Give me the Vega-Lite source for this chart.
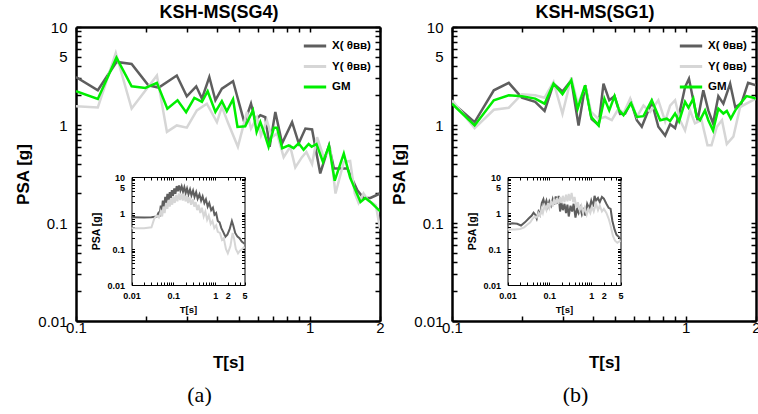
{
  "$schema": "https://vega.github.io/schema/vega-lite/v6.json",
  "background": "white",
  "padding": {"left": 14, "top": 4, "right": 0, "bottom": 0},
  "config": {"view": {"stroke": null}, "font": "Liberation Sans"},
  "datasets": {
    "mainA": [
      {"s":"X","T":0.1,"psa":3.09},{"s":"X","T":0.124,"psa":2.26},{"s":"X","T":0.149,"psa":4.4},{"s":"X","T":0.173,"psa":4.2},{"s":"X","T":0.204,"psa":2.54},{"s":"X","T":0.226,"psa":2.41},{"s":"X","T":0.27,"psa":3.2},{"s":"X","T":0.298,"psa":1.96},{"s":"X","T":0.327,"psa":2.48},{"s":"X","T":0.346,"psa":1.86},{"s":"X","T":0.372,"psa":3.09},{"s":"X","T":0.395,"psa":1.79},{"s":"X","T":0.421,"psa":2.35},{"s":"X","T":0.47,"psa":2.8},{"s":"X","T":0.526,"psa":1.05},{"s":"X","T":0.561,"psa":1.65},{"s":"X","T":0.585,"psa":1.11},{"s":"X","T":0.615,"psa":1.26},{"s":"X","T":0.646,"psa":1.2},{"s":"X","T":0.674,"psa":0.6},{"s":"X","T":0.713,"psa":1.36},{"s":"X","T":0.762,"psa":0.65},{"s":"X","T":0.841,"psa":1.07},{"s":"X","T":0.898,"psa":0.65},{"s":"X","T":0.959,"psa":0.92},{"s":"X","T":1.024,"psa":0.9},{"s":"X","T":1.11,"psa":0.32},{"s":"X","T":1.21,"psa":0.62},{"s":"X","T":1.27,"psa":0.36},{"s":"X","T":1.45,"psa":0.36},{"s":"X","T":1.6,"psa":0.216},{"s":"X","T":1.7,"psa":0.18},{"s":"X","T":1.82,"psa":0.18},{"s":"X","T":2.0,"psa":0.2},
      {"s":"Y","T":0.1,"psa":1.55},{"s":"Y","T":0.124,"psa":1.51},{"s":"Y","T":0.148,"psa":5.43},{"s":"Y","T":0.173,"psa":1.47},{"s":"Y","T":0.222,"psa":3.2},{"s":"Y","T":0.245,"psa":0.85},{"s":"Y","T":0.27,"psa":0.99},{"s":"Y","T":0.298,"psa":0.94},{"s":"Y","T":0.329,"psa":1.41},{"s":"Y","T":0.363,"psa":1.65},{"s":"Y","T":0.401,"psa":1.07},{"s":"Y","T":0.421,"psa":1.53},{"s":"Y","T":0.449,"psa":1.03},{"s":"Y","T":0.493,"psa":0.6},{"s":"Y","T":0.539,"psa":1.36},{"s":"Y","T":0.561,"psa":0.92},{"s":"Y","T":0.595,"psa":1.2},{"s":"Y","T":0.619,"psa":0.78},{"s":"Y","T":0.656,"psa":1.11},{"s":"Y","T":0.69,"psa":0.75},{"s":"Y","T":0.725,"psa":0.82},{"s":"Y","T":0.774,"psa":0.47},{"s":"Y","T":0.826,"psa":0.6},{"s":"Y","T":0.868,"psa":0.37},{"s":"Y","T":0.927,"psa":0.47},{"s":"Y","T":0.968,"psa":0.53},{"s":"Y","T":1.024,"psa":0.4},{"s":"Y","T":1.076,"psa":0.75},{"s":"Y","T":1.148,"psa":0.47},{"s":"Y","T":1.227,"psa":0.55},{"s":"Y","T":1.29,"psa":0.2},{"s":"Y","T":1.4,"psa":0.42},{"s":"Y","T":1.49,"psa":0.43},{"s":"Y","T":1.56,"psa":0.2},{"s":"Y","T":1.62,"psa":0.16},{"s":"Y","T":1.7,"psa":0.2},{"s":"Y","T":1.78,"psa":0.17},{"s":"Y","T":1.92,"psa":0.152},{"s":"Y","T":2.0,"psa":0.088},
      {"s":"GM","T":0.1,"psa":2.21},{"s":"GM","T":0.124,"psa":1.84},{"s":"GM","T":0.149,"psa":4.87},{"s":"GM","T":0.173,"psa":2.48},{"s":"GM","T":0.198,"psa":2.39},{"s":"GM","T":0.222,"psa":2.69},{"s":"GM","T":0.246,"psa":1.47},{"s":"GM","T":0.272,"psa":1.79},{"s":"GM","T":0.296,"psa":1.35},{"s":"GM","T":0.321,"psa":1.89},{"s":"GM","T":0.346,"psa":1.72},{"s":"GM","T":0.366,"psa":2.21},{"s":"GM","T":0.395,"psa":1.36},{"s":"GM","T":0.421,"psa":1.75},{"s":"GM","T":0.442,"psa":1.38},{"s":"GM","T":0.47,"psa":1.83},{"s":"GM","T":0.491,"psa":0.955},{"s":"GM","T":0.53,"psa":0.97},{"s":"GM","T":0.572,"psa":1.41},{"s":"GM","T":0.593,"psa":0.85},{"s":"GM","T":0.615,"psa":1.07},{"s":"GM","T":0.64,"psa":0.82},{"s":"GM","T":0.667,"psa":0.6},{"s":"GM","T":0.703,"psa":0.94},{"s":"GM","T":0.725,"psa":0.94},{"s":"GM","T":0.763,"psa":0.58},{"s":"GM","T":0.814,"psa":0.62},{"s":"GM","T":0.854,"psa":0.58},{"s":"GM","T":0.897,"psa":0.65},{"s":"GM","T":0.942,"psa":0.56},{"s":"GM","T":0.99,"psa":0.64},{"s":"GM","T":1.02,"psa":0.6},{"s":"GM","T":1.07,"psa":0.64},{"s":"GM","T":1.14,"psa":0.42},{"s":"GM","T":1.21,"psa":0.61},{"s":"GM","T":1.28,"psa":0.27},{"s":"GM","T":1.4,"psa":0.51},{"s":"GM","T":1.49,"psa":0.29},{"s":"GM","T":1.65,"psa":0.164},{"s":"GM","T":1.73,"psa":0.18},{"s":"GM","T":1.82,"psa":0.164},{"s":"GM","T":2.0,"psa":0.132}
    ],
    "mainB": [
      {"s":"X","T":0.1,"psa":1.7},{"s":"X","T":0.125,"psa":1.07},{"s":"X","T":0.151,"psa":2.26},{"s":"X","T":0.175,"psa":2.69},{"s":"X","T":0.199,"psa":1.9},{"s":"X","T":0.227,"psa":1.72},{"s":"X","T":0.249,"psa":1.39},{"s":"X","T":0.272,"psa":2.64},{"s":"X","T":0.297,"psa":2.2},{"s":"X","T":0.324,"psa":2.86},{"s":"X","T":0.348,"psa":0.99},{"s":"X","T":0.372,"psa":2.54},{"s":"X","T":0.396,"psa":1.15},{"s":"X","T":0.424,"psa":1.0},{"s":"X","T":0.445,"psa":2.64},{"s":"X","T":0.471,"psa":1.79},{"s":"X","T":0.496,"psa":1.97},{"s":"X","T":0.524,"psa":1.3},{"s":"X","T":0.551,"psa":1.31},{"s":"X","T":0.584,"psa":1.72},{"s":"X","T":0.618,"psa":1.12},{"s":"X","T":0.649,"psa":0.96},{"s":"X","T":0.716,"psa":1.72},{"s":"X","T":0.764,"psa":0.96},{"s":"X","T":0.817,"psa":0.78},{"s":"X","T":0.858,"psa":1.02},{"s":"X","T":0.901,"psa":0.93},{"s":"X","T":0.946,"psa":1.41},{"s":"X","T":0.994,"psa":2.44},{"s":"X","T":1.033,"psa":2.97},{"s":"X","T":1.078,"psa":1.79},{"s":"X","T":1.125,"psa":1.12},{"s":"X","T":1.19,"psa":2.26},{"s":"X","T":1.25,"psa":1.41},{"s":"X","T":1.31,"psa":1.04},{"s":"X","T":1.38,"psa":1.97},{"s":"X","T":1.45,"psa":1.65},{"s":"X","T":1.55,"psa":2.64},{"s":"X","T":1.63,"psa":1.52},{"s":"X","T":1.73,"psa":1.65},{"s":"X","T":1.85,"psa":2.69},{"s":"X","T":2.0,"psa":2.54},
      {"s":"Y","T":0.1,"psa":1.79},{"s":"Y","T":0.125,"psa":0.93},{"s":"Y","T":0.151,"psa":1.43},{"s":"Y","T":0.175,"psa":1.5},{"s":"Y","T":0.199,"psa":2.06},{"s":"Y","T":0.227,"psa":2.01},{"s":"Y","T":0.249,"psa":1.9},{"s":"Y","T":0.272,"psa":2.75},{"s":"Y","T":0.297,"psa":1.3},{"s":"Y","T":0.324,"psa":3.05},{"s":"Y","T":0.345,"psa":1.65},{"s":"Y","T":0.372,"psa":2.44},{"s":"Y","T":0.394,"psa":1.36},{"s":"Y","T":0.424,"psa":1.15},{"s":"Y","T":0.453,"psa":1.21},{"s":"Y","T":0.483,"psa":1.12},{"s":"Y","T":0.516,"psa":1.47},{"s":"Y","T":0.542,"psa":1.31},{"s":"Y","T":0.579,"psa":1.86},{"s":"Y","T":0.618,"psa":1.21},{"s":"Y","T":0.66,"psa":1.58},{"s":"Y","T":0.705,"psa":1.36},{"s":"Y","T":0.764,"psa":1.79},{"s":"Y","T":0.817,"psa":1.09},{"s":"Y","T":0.858,"psa":1.58},{"s":"Y","T":0.901,"psa":1.79},{"s":"Y","T":0.946,"psa":1.12},{"s":"Y","T":0.994,"psa":0.88},{"s":"Y","T":1.044,"psa":1.41},{"s":"Y","T":1.096,"psa":1.04},{"s":"Y","T":1.17,"psa":1.12},{"s":"Y","T":1.24,"psa":0.62},{"s":"Y","T":1.29,"psa":0.62},{"s":"Y","T":1.36,"psa":0.96},{"s":"Y","T":1.43,"psa":1.12},{"s":"Y","T":1.5,"psa":0.64},{"s":"Y","T":1.6,"psa":0.76},{"s":"Y","T":1.71,"psa":1.52},{"s":"Y","T":1.82,"psa":1.65},{"s":"Y","T":2.0,"psa":1.86},
      {"s":"GM","T":0.1,"psa":1.65},{"s":"GM","T":0.125,"psa":0.99},{"s":"GM","T":0.151,"psa":1.79},{"s":"GM","T":0.175,"psa":2.01},{"s":"GM","T":0.199,"psa":1.97},{"s":"GM","T":0.227,"psa":1.86},{"s":"GM","T":0.249,"psa":1.65},{"s":"GM","T":0.272,"psa":2.64},{"s":"GM","T":0.297,"psa":2.06},{"s":"GM","T":0.324,"psa":2.86},{"s":"GM","T":0.345,"psa":1.47},{"s":"GM","T":0.371,"psa":2.54},{"s":"GM","T":0.394,"psa":1.21},{"s":"GM","T":0.424,"psa":0.99},{"s":"GM","T":0.449,"psa":1.86},{"s":"GM","T":0.471,"psa":1.41},{"s":"GM","T":0.496,"psa":1.97},{"s":"GM","T":0.519,"psa":1.41},{"s":"GM","T":0.542,"psa":1.26},{"s":"GM","T":0.584,"psa":1.67},{"s":"GM","T":0.618,"psa":1.21},{"s":"GM","T":0.66,"psa":1.23},{"s":"GM","T":0.716,"psa":1.79},{"s":"GM","T":0.778,"psa":1.12},{"s":"GM","T":0.83,"psa":1.16},{"s":"GM","T":0.858,"psa":1.1},{"s":"GM","T":0.901,"psa":1.31},{"s":"GM","T":0.937,"psa":1.09},{"s":"GM","T":0.994,"psa":1.72},{"s":"GM","T":1.028,"psa":1.5},{"s":"GM","T":1.078,"psa":1.86},{"s":"GM","T":1.114,"psa":1.21},{"s":"GM","T":1.152,"psa":1.12},{"s":"GM","T":1.21,"psa":1.41},{"s":"GM","T":1.25,"psa":1.12},{"s":"GM","T":1.31,"psa":0.88},{"s":"GM","T":1.38,"psa":1.47},{"s":"GM","T":1.45,"psa":1.31},{"s":"GM","T":1.5,"psa":1.39},{"s":"GM","T":1.56,"psa":1.16},{"s":"GM","T":1.63,"psa":1.41},{"s":"GM","T":1.71,"psa":1.65},{"s":"GM","T":1.82,"psa":1.97},{"s":"GM","T":1.95,"psa":1.9},{"s":"GM","T":2.0,"psa":1.85}
    ],
    "insA": [
      {"s":"X","T":0.01,"psa":0.76},{"s":"X","T":0.02,"psa":0.75},{"s":"X","T":0.03,"psa":0.76},{"s":"X","T":0.04,"psa":0.8},{"s":"X","T":0.044,"psa":1.0},{"s":"X","T":0.047,"psa":0.9},{"s":"X","T":0.05,"psa":1.6},{"s":"X","T":0.053,"psa":1.2},{"s":"X","T":0.056,"psa":2.2},{"s":"X","T":0.06,"psa":1.5},{"s":"X","T":0.064,"psa":2.8},{"s":"X","T":0.068,"psa":1.9},{"s":"X","T":0.072,"psa":3.4},{"s":"X","T":0.077,"psa":2.2},{"s":"X","T":0.082,"psa":3.8},{"s":"X","T":0.087,"psa":2.6},{"s":"X","T":0.092,"psa":4.3},{"s":"X","T":0.098,"psa":3.0},{"s":"X","T":0.105,"psa":4.8},{"s":"X","T":0.112,"psa":3.4},{"s":"X","T":0.12,"psa":5.6},{"s":"X","T":0.128,"psa":4.0},{"s":"X","T":0.137,"psa":5.8},{"s":"X","T":0.147,"psa":4.2},{"s":"X","T":0.158,"psa":5.5},{"s":"X","T":0.17,"psa":3.9},{"s":"X","T":0.183,"psa":5.2},{"s":"X","T":0.197,"psa":3.6},{"s":"X","T":0.212,"psa":4.8},{"s":"X","T":0.23,"psa":3.3},{"s":"X","T":0.25,"psa":4.5},{"s":"X","T":0.27,"psa":3.1},{"s":"X","T":0.295,"psa":4.2},{"s":"X","T":0.32,"psa":2.8},{"s":"X","T":0.35,"psa":3.8},{"s":"X","T":0.38,"psa":2.5},{"s":"X","T":0.42,"psa":3.3},{"s":"X","T":0.46,"psa":2.2},{"s":"X","T":0.5,"psa":2.9},{"s":"X","T":0.55,"psa":1.9},{"s":"X","T":0.6,"psa":2.4},{"s":"X","T":0.66,"psa":1.5},{"s":"X","T":0.72,"psa":1.9},{"s":"X","T":0.8,"psa":1.2},{"s":"X","T":0.88,"psa":1.4},{"s":"X","T":0.96,"psa":0.9},{"s":"X","T":1.05,"psa":1.0},{"s":"X","T":1.15,"psa":0.6},{"s":"X","T":1.27,"psa":0.55},{"s":"X","T":1.4,"psa":0.38},{"s":"X","T":1.55,"psa":0.3},{"s":"X","T":1.75,"psa":0.22},{"s":"X","T":1.95,"psa":0.25},{"s":"X","T":2.2,"psa":0.35},{"s":"X","T":2.5,"psa":0.6},{"s":"X","T":2.7,"psa":0.45},{"s":"X","T":3.0,"psa":0.28},{"s":"X","T":3.4,"psa":0.22},{"s":"X","T":3.8,"psa":0.2},{"s":"X","T":4.3,"psa":0.16},{"s":"X","T":5.0,"psa":0.14},
      {"s":"Y","T":0.01,"psa":0.38},{"s":"Y","T":0.02,"psa":0.38},{"s":"Y","T":0.03,"psa":0.4},{"s":"Y","T":0.035,"psa":0.7},{"s":"Y","T":0.04,"psa":0.85},{"s":"Y","T":0.045,"psa":0.75},{"s":"Y","T":0.05,"psa":1.1},{"s":"Y","T":0.054,"psa":0.8},{"s":"Y","T":0.058,"psa":1.5},{"s":"Y","T":0.062,"psa":1.0},{"s":"Y","T":0.067,"psa":1.9},{"s":"Y","T":0.072,"psa":1.3},{"s":"Y","T":0.077,"psa":2.3},{"s":"Y","T":0.082,"psa":1.5},{"s":"Y","T":0.088,"psa":2.6},{"s":"Y","T":0.094,"psa":1.7},{"s":"Y","T":0.1,"psa":2.9},{"s":"Y","T":0.108,"psa":1.9},{"s":"Y","T":0.116,"psa":3.2},{"s":"Y","T":0.125,"psa":2.1},{"s":"Y","T":0.135,"psa":3.5},{"s":"Y","T":0.145,"psa":2.3},{"s":"Y","T":0.156,"psa":3.4},{"s":"Y","T":0.168,"psa":2.2},{"s":"Y","T":0.18,"psa":3.3},{"s":"Y","T":0.195,"psa":2.1},{"s":"Y","T":0.21,"psa":3.0},{"s":"Y","T":0.225,"psa":1.9},{"s":"Y","T":0.245,"psa":2.7},{"s":"Y","T":0.265,"psa":1.7},{"s":"Y","T":0.29,"psa":2.4},{"s":"Y","T":0.315,"psa":1.5},{"s":"Y","T":0.34,"psa":2.0},{"s":"Y","T":0.37,"psa":1.2},{"s":"Y","T":0.4,"psa":1.7},{"s":"Y","T":0.44,"psa":1.0},{"s":"Y","T":0.48,"psa":1.4},{"s":"Y","T":0.53,"psa":0.8},{"s":"Y","T":0.58,"psa":1.1},{"s":"Y","T":0.64,"psa":0.65},{"s":"Y","T":0.7,"psa":0.85},{"s":"Y","T":0.78,"psa":0.5},{"s":"Y","T":0.86,"psa":0.6},{"s":"Y","T":0.95,"psa":0.38},{"s":"Y","T":1.05,"psa":0.45},{"s":"Y","T":1.15,"psa":0.3},{"s":"Y","T":1.3,"psa":0.28},{"s":"Y","T":1.45,"psa":0.18},{"s":"Y","T":1.6,"psa":0.2},{"s":"Y","T":1.8,"psa":0.1},{"s":"Y","T":2.0,"psa":0.076},{"s":"Y","T":2.3,"psa":0.12},{"s":"Y","T":2.6,"psa":0.28},{"s":"Y","T":2.8,"psa":0.2},{"s":"Y","T":3.1,"psa":0.1},{"s":"Y","T":3.5,"psa":0.076},{"s":"Y","T":3.9,"psa":0.09},{"s":"Y","T":4.4,"psa":0.1},{"s":"Y","T":5.0,"psa":0.115}
    ],
    "insB": [
      {"s":"X","T":0.01,"psa":0.48},{"s":"X","T":0.013,"psa":0.52},{"s":"X","T":0.017,"psa":0.5},{"s":"X","T":0.021,"psa":0.45},{"s":"X","T":0.026,"psa":0.55},{"s":"X","T":0.032,"psa":0.7},{"s":"X","T":0.038,"psa":0.85},{"s":"X","T":0.042,"psa":1.02},{"s":"X","T":0.046,"psa":0.9},{"s":"X","T":0.05,"psa":0.7},{"s":"X","T":0.055,"psa":1.1},{"s":"X","T":0.06,"psa":0.9},{"s":"X","T":0.066,"psa":1.9},{"s":"X","T":0.072,"psa":2.4},{"s":"X","T":0.078,"psa":1.6},{"s":"X","T":0.085,"psa":2.2},{"s":"X","T":0.092,"psa":1.5},{"s":"X","T":0.1,"psa":2.1},{"s":"X","T":0.11,"psa":1.6},{"s":"X","T":0.12,"psa":2.4},{"s":"X","T":0.13,"psa":1.7},{"s":"X","T":0.142,"psa":2.9},{"s":"X","T":0.155,"psa":1.8},{"s":"X","T":0.167,"psa":3.0},{"s":"X","T":0.18,"psa":1.1},{"s":"X","T":0.195,"psa":1.9},{"s":"X","T":0.21,"psa":1.2},{"s":"X","T":0.23,"psa":1.8},{"s":"X","T":0.25,"psa":1.0},{"s":"X","T":0.27,"psa":1.7},{"s":"X","T":0.29,"psa":0.8},{"s":"X","T":0.32,"psa":1.6},{"s":"X","T":0.35,"psa":1.1},{"s":"X","T":0.38,"psa":1.8},{"s":"X","T":0.42,"psa":0.75},{"s":"X","T":0.46,"psa":1.3},{"s":"X","T":0.5,"psa":1.0},{"s":"X","T":0.55,"psa":1.4},{"s":"X","T":0.6,"psa":0.9},{"s":"X","T":0.66,"psa":1.2},{"s":"X","T":0.72,"psa":0.85},{"s":"X","T":0.8,"psa":1.8},{"s":"X","T":0.9,"psa":1.3},{"s":"X","T":1.0,"psa":2.2},{"s":"X","T":1.1,"psa":1.5},{"s":"X","T":1.2,"psa":3.0},{"s":"X","T":1.3,"psa":2.2},{"s":"X","T":1.45,"psa":2.6},{"s":"X","T":1.6,"psa":2.0},{"s":"X","T":1.8,"psa":2.8},{"s":"X","T":2.0,"psa":2.5},{"s":"X","T":2.3,"psa":1.8},{"s":"X","T":2.6,"psa":1.4},{"s":"X","T":2.9,"psa":1.3},{"s":"X","T":3.2,"psa":0.6},{"s":"X","T":3.6,"psa":0.35},{"s":"X","T":4.0,"psa":0.25},{"s":"X","T":4.5,"psa":0.22},{"s":"X","T":5.0,"psa":0.19},
      {"s":"Y","T":0.01,"psa":0.35},{"s":"Y","T":0.015,"psa":0.35},{"s":"Y","T":0.02,"psa":0.36},{"s":"Y","T":0.025,"psa":0.4},{"s":"Y","T":0.03,"psa":0.48},{"s":"Y","T":0.035,"psa":0.55},{"s":"Y","T":0.04,"psa":0.7},{"s":"Y","T":0.045,"psa":0.8},{"s":"Y","T":0.05,"psa":0.75},{"s":"Y","T":0.055,"psa":1.0},{"s":"Y","T":0.06,"psa":0.85},{"s":"Y","T":0.065,"psa":1.3},{"s":"Y","T":0.07,"psa":1.0},{"s":"Y","T":0.077,"psa":1.6},{"s":"Y","T":0.085,"psa":1.2},{"s":"Y","T":0.093,"psa":1.9},{"s":"Y","T":0.1,"psa":1.4},{"s":"Y","T":0.11,"psa":2.2},{"s":"Y","T":0.12,"psa":1.5},{"s":"Y","T":0.13,"psa":2.5},{"s":"Y","T":0.14,"psa":1.7},{"s":"Y","T":0.152,"psa":2.6},{"s":"Y","T":0.165,"psa":1.8},{"s":"Y","T":0.18,"psa":2.8},{"s":"Y","T":0.195,"psa":1.9},{"s":"Y","T":0.21,"psa":3.0},{"s":"Y","T":0.23,"psa":2.0},{"s":"Y","T":0.25,"psa":3.2},{"s":"Y","T":0.27,"psa":2.1},{"s":"Y","T":0.29,"psa":3.4},{"s":"Y","T":0.31,"psa":2.2},{"s":"Y","T":0.34,"psa":3.6},{"s":"Y","T":0.37,"psa":2.0},{"s":"Y","T":0.4,"psa":2.8},{"s":"Y","T":0.44,"psa":1.4},{"s":"Y","T":0.48,"psa":2.0},{"s":"Y","T":0.53,"psa":1.2},{"s":"Y","T":0.58,"psa":1.6},{"s":"Y","T":0.64,"psa":1.0},{"s":"Y","T":0.7,"psa":1.4},{"s":"Y","T":0.78,"psa":0.9},{"s":"Y","T":0.86,"psa":1.3},{"s":"Y","T":0.95,"psa":1.0},{"s":"Y","T":1.05,"psa":1.5},{"s":"Y","T":1.15,"psa":1.1},{"s":"Y","T":1.3,"psa":1.8},{"s":"Y","T":1.45,"psa":1.2},{"s":"Y","T":1.6,"psa":1.6},{"s":"Y","T":1.8,"psa":1.1},{"s":"Y","T":2.0,"psa":1.3},{"s":"Y","T":2.3,"psa":1.0},{"s":"Y","T":2.6,"psa":0.7},{"s":"Y","T":2.9,"psa":0.45},{"s":"Y","T":3.3,"psa":0.23},{"s":"Y","T":3.7,"psa":0.17},{"s":"Y","T":4.2,"psa":0.15},{"s":"Y","T":4.6,"psa":0.16},{"s":"Y","T":5.0,"psa":0.17}
    ]
  },
  "spacing": 5,
  "resolve": {"scale": {"color": "independent"}, "legend": {"color": "independent"}},
  "hconcat": [
    {
      "title": {"text": "(a)", "orient": "bottom", "font": "Liberation Serif", "fontSize": 22, "fontWeight": "normal", "color": "black", "anchor": "middle", "frame": "bounds", "offset": 15},
      "resolve": {"scale": {"color": "independent"}, "legend": {"color": "independent"}},
      "vconcat": [
        {
          "width": 304, "height": 294,
          "title": {"text": "KSH-MS(SG4)", "fontSize": 18, "fontWeight": "bold", "font": "Liberation Sans", "color": "black", "anchor": "middle", "frame": "group", "dx": -9, "offset": -2},
          "resolve": {"scale": {"x": "independent", "y": "independent", "color": "independent"}, "axis": {"x": "independent", "y": "independent"}, "legend": {"color": "independent"}},
          "layer": [
            {
              "data": {"name": "mainA"},
              "mark": {"type": "line", "strokeWidth": 2.5, "clip": true},
              "encoding": {
                "x": {"field": "T", "type": "quantitative", "scale": {"type": "log", "domain": [0.1, 2], "nice": false},
                  "axis": {"orient": "bottom", "title": "T[s]", "values": [0.1,0.2,0.3,0.4,0.5,0.6,0.7,0.8,0.9,1,2], "labelExpr": "indexof([0.1,1,2], datum.value) >= 0 ? format(datum.value, '~g') : ''", "grid": false, "tickSize": -5, "tickWidth": 1.5, "tickColor": "black", "domainColor": "black", "domainWidth": 2.5, "labelFont": "Liberation Sans", "labelFontSize": 15, "labelColor": "black", "labelPadding": 4, "labelFlush": false, "labelOverlap": false, "titleFont": "Liberation Sans", "titleFontSize": 17, "titleFontWeight": "bold", "titleColor": "black", "titlePadding": 19}},
                "y": {"field": "psa", "type": "quantitative", "scale": {"type": "log", "domain": [0.01, 10], "nice": false},
                  "axis": {"orient": "left", "title": "PSA [g]", "values": [0.01,0.02,0.03,0.04,0.05,0.06,0.07,0.08,0.09,0.1,0.2,0.3,0.4,0.5,0.6,0.7,0.8,0.9,1,2,3,4,5,6,7,8,9,10], "labelExpr": "indexof([0.01,0.1,1,5,10], datum.value) >= 0 ? format(datum.value, '~g') : ''", "grid": false, "tickSize": -5, "tickWidth": 1.5, "tickColor": "black", "domainColor": "black", "domainWidth": 2.5, "labelFont": "Liberation Sans", "labelFontSize": 15, "labelColor": "black", "labelPadding": 14, "labelOverlap": false, "labelFlush": false, "titleFont": "Liberation Sans", "titleFontSize": 17, "titleFontWeight": "bold", "titleColor": "black", "titlePadding": 5}},
                "color": {"field": "s", "type": "nominal", "scale": {"domain": ["X","Y","GM"], "range": ["#5e5e5e","#d6d6d6","#00ee00"]},
                  "legend": {"title": null, "orient": "none", "legendX": 226, "legendY": 6, "padding": 0, "symbolType": "stroke", "symbolStrokeWidth": 3, "symbolSize": 500, "rowPadding": 1.5, "labelFont": "Liberation Sans", "labelFontSize": 11.5, "labelFontWeight": "bold", "labelColor": "black", "labelOffset": 4, "labelExpr": "datum.label == 'GM' ? 'GM' : datum.label + '( θʙʙ)'"}}
              }
            },
            {
              "data": {"name": "mainA"},
              "mark": {"type": "line", "strokeOpacity": 0},
              "encoding": {
                "x": {"field": "T", "type": "quantitative", "scale": {"type": "log", "domain": [0.1, 2], "nice": false},
                  "axis": {"orient": "top", "title": null, "labels": false, "minExtent": 0, "values": [0.1,0.2,0.3,0.4,0.5,0.6,0.7,0.8,0.9,1,2], "grid": false, "tickSize": -5, "tickWidth": 1.5, "tickColor": "black", "domainColor": "black", "domainWidth": 2.5}},
                "y": {"field": "psa", "type": "quantitative", "scale": {"type": "log", "domain": [0.01, 10], "nice": false},
                  "axis": {"orient": "right", "title": null, "labels": false, "minExtent": 0, "values": [0.01,0.02,0.03,0.04,0.05,0.06,0.07,0.08,0.09,0.1,0.2,0.3,0.4,0.5,0.6,0.7,0.8,0.9,1,2,3,4,5,6,7,8,9,10], "grid": false, "tickSize": -5, "tickWidth": 1.5, "tickColor": "black", "domainColor": "black", "domainWidth": 2.5}}
              }
            },
            {
              "data": {"name": "insA"},
              "mark": {"type": "line", "strokeWidth": 2},
              "encoding": {
                "x": {"field": "T", "type": "quantitative", "scale": {"type": "log", "domain": [0.01, 5], "nice": false, "range": [55.5, 168.5]},
                  "axis": {"orient": "bottom", "offset": -36, "title": "T[s]", "values": [0.01,0.02,0.03,0.04,0.05,0.06,0.07,0.08,0.09,0.1,0.2,0.3,0.4,0.5,0.6,0.7,0.8,0.9,1,2,3,4,5], "labelExpr": "indexof([0.01,0.1,1,2,5], datum.value) >= 0 ? format(datum.value, '~g') : ''", "grid": false, "tickSize": -3, "tickWidth": 1, "tickColor": "black", "domainColor": "black", "domainWidth": 1, "labelFont": "Liberation Sans", "labelFontSize": 9, "labelFontWeight": "bold", "labelColor": "black", "labelPadding": 9, "labelFlush": false, "labelOverlap": false, "titleFont": "Liberation Sans", "titleFontSize": 9.5, "titleFontWeight": "bold", "titleColor": "black", "titlePadding": 4}},
                "y": {"field": "psa", "type": "quantitative", "scale": {"type": "log", "domain": [0.01, 10], "nice": false, "range": [258, 150]},
                  "axis": {"orient": "left", "offset": -55.5, "title": "PSA [g]", "values": [0.01,0.02,0.03,0.04,0.05,0.06,0.07,0.08,0.09,0.1,0.2,0.3,0.4,0.5,0.6,0.7,0.8,0.9,1,2,3,4,5,6,7,8,9,10], "labelExpr": "indexof([0.01,0.1,1,5,10], datum.value) >= 0 ? format(datum.value, '~g') : ''", "grid": false, "tickSize": -3, "tickWidth": 1, "tickColor": "black", "domainColor": "black", "domainWidth": 1, "labelFont": "Liberation Sans", "labelFontSize": 9, "labelFontWeight": "bold", "labelColor": "black", "labelPadding": 10, "labelFlush": false, "labelOverlap": false, "titleFont": "Liberation Sans", "titleFontSize": 10.5, "titleFontWeight": "bold", "titleColor": "black", "titlePadding": 5}},
                "color": {"field": "s", "type": "nominal", "scale": {"domain": ["X","Y"], "range": ["#5e5e5e","#d6d6d6"]}, "legend": null}
              }
            },
            {
              "data": {"name": "insA"},
              "mark": {"type": "line", "strokeOpacity": 0},
              "encoding": {
                "x": {"field": "T", "type": "quantitative", "scale": {"type": "log", "domain": [0.01, 5], "nice": false, "range": [55.5, 168.5]},
                  "axis": {"orient": "top", "offset": -150, "title": null, "labels": false, "values": [0.01,0.02,0.03,0.04,0.05,0.06,0.07,0.08,0.09,0.1,0.2,0.3,0.4,0.5,0.6,0.7,0.8,0.9,1,2,3,4,5], "grid": false, "tickSize": -3, "tickWidth": 1, "tickColor": "black", "domainColor": "black", "domainWidth": 1}},
                "y": {"field": "psa", "type": "quantitative", "scale": {"type": "log", "domain": [0.01, 10], "nice": false, "range": [258, 150]},
                  "axis": {"orient": "right", "offset": -135.5, "title": null, "labels": false, "values": [0.01,0.02,0.03,0.04,0.05,0.06,0.07,0.08,0.09,0.1,0.2,0.3,0.4,0.5,0.6,0.7,0.8,0.9,1,2,3,4,5,6,7,8,9,10], "grid": false, "tickSize": -3, "tickWidth": 1, "tickColor": "black", "domainColor": "black", "domainWidth": 1}}
              }
            }
          ]
        }
      ]
    },
    {
      "title": {"text": "(b)", "orient": "bottom", "font": "Liberation Serif", "fontSize": 22, "fontWeight": "normal", "color": "black", "anchor": "middle", "frame": "bounds", "offset": 15},
      "resolve": {"scale": {"color": "independent"}, "legend": {"color": "independent"}},
      "vconcat": [
        {
          "width": 304, "height": 294,
          "title": {"text": "KSH-MS(SG1)", "fontSize": 18, "fontWeight": "bold", "font": "Liberation Sans", "color": "black", "anchor": "middle", "frame": "group", "dx": -9, "offset": -2},
          "resolve": {"scale": {"x": "independent", "y": "independent", "color": "independent"}, "axis": {"x": "independent", "y": "independent"}, "legend": {"color": "independent"}},
          "layer": [
            {
              "data": {"name": "mainB"},
              "mark": {"type": "line", "strokeWidth": 2.5, "clip": true},
              "encoding": {
                "x": {"field": "T", "type": "quantitative", "scale": {"type": "log", "domain": [0.1, 2], "nice": false},
                  "axis": {"orient": "bottom", "title": "T[s]", "values": [0.1,0.2,0.3,0.4,0.5,0.6,0.7,0.8,0.9,1,2], "labelExpr": "indexof([0.1,1,2], datum.value) >= 0 ? format(datum.value, '~g') : ''", "grid": false, "tickSize": -5, "tickWidth": 1.5, "tickColor": "black", "domainColor": "black", "domainWidth": 2.5, "labelFont": "Liberation Sans", "labelFontSize": 15, "labelColor": "black", "labelPadding": 4, "labelFlush": false, "labelOverlap": false, "titleFont": "Liberation Sans", "titleFontSize": 17, "titleFontWeight": "bold", "titleColor": "black", "titlePadding": 19}},
                "y": {"field": "psa", "type": "quantitative", "scale": {"type": "log", "domain": [0.01, 10], "nice": false},
                  "axis": {"orient": "left", "title": "PSA [g]", "values": [0.01,0.02,0.03,0.04,0.05,0.06,0.07,0.08,0.09,0.1,0.2,0.3,0.4,0.5,0.6,0.7,0.8,0.9,1,2,3,4,5,6,7,8,9,10], "labelExpr": "indexof([0.01,0.1,1,5,10], datum.value) >= 0 ? format(datum.value, '~g') : ''", "grid": false, "tickSize": -5, "tickWidth": 1.5, "tickColor": "black", "domainColor": "black", "domainWidth": 2.5, "labelFont": "Liberation Sans", "labelFontSize": 15, "labelColor": "black", "labelPadding": 14, "labelOverlap": false, "labelFlush": false, "titleFont": "Liberation Sans", "titleFontSize": 17, "titleFontWeight": "bold", "titleColor": "black", "titlePadding": 5}},
                "color": {"field": "s", "type": "nominal", "scale": {"domain": ["X","Y","GM"], "range": ["#5e5e5e","#d6d6d6","#00ee00"]},
                  "legend": {"title": null, "orient": "none", "legendX": 226, "legendY": 6, "padding": 0, "symbolType": "stroke", "symbolStrokeWidth": 3, "symbolSize": 500, "rowPadding": 1.5, "labelFont": "Liberation Sans", "labelFontSize": 11.5, "labelFontWeight": "bold", "labelColor": "black", "labelOffset": 4, "labelExpr": "datum.label == 'GM' ? 'GM' : datum.label + '( θʙʙ)'"}}
              }
            },
            {
              "data": {"name": "mainB"},
              "mark": {"type": "line", "strokeOpacity": 0},
              "encoding": {
                "x": {"field": "T", "type": "quantitative", "scale": {"type": "log", "domain": [0.1, 2], "nice": false},
                  "axis": {"orient": "top", "title": null, "labels": false, "minExtent": 0, "values": [0.1,0.2,0.3,0.4,0.5,0.6,0.7,0.8,0.9,1,2], "grid": false, "tickSize": -5, "tickWidth": 1.5, "tickColor": "black", "domainColor": "black", "domainWidth": 2.5}},
                "y": {"field": "psa", "type": "quantitative", "scale": {"type": "log", "domain": [0.01, 10], "nice": false},
                  "axis": {"orient": "right", "title": null, "labels": false, "minExtent": 0, "values": [0.01,0.02,0.03,0.04,0.05,0.06,0.07,0.08,0.09,0.1,0.2,0.3,0.4,0.5,0.6,0.7,0.8,0.9,1,2,3,4,5,6,7,8,9,10], "grid": false, "tickSize": -5, "tickWidth": 1.5, "tickColor": "black", "domainColor": "black", "domainWidth": 2.5}}
              }
            },
            {
              "data": {"name": "insB"},
              "mark": {"type": "line", "strokeWidth": 2},
              "encoding": {
                "x": {"field": "T", "type": "quantitative", "scale": {"type": "log", "domain": [0.01, 5], "nice": false, "range": [55.5, 168.5]},
                  "axis": {"orient": "bottom", "offset": -36, "title": "T[s]", "values": [0.01,0.02,0.03,0.04,0.05,0.06,0.07,0.08,0.09,0.1,0.2,0.3,0.4,0.5,0.6,0.7,0.8,0.9,1,2,3,4,5], "labelExpr": "indexof([0.01,0.1,1,2,5], datum.value) >= 0 ? format(datum.value, '~g') : ''", "grid": false, "tickSize": -3, "tickWidth": 1, "tickColor": "black", "domainColor": "black", "domainWidth": 1, "labelFont": "Liberation Sans", "labelFontSize": 9, "labelFontWeight": "bold", "labelColor": "black", "labelPadding": 9, "labelFlush": false, "labelOverlap": false, "titleFont": "Liberation Sans", "titleFontSize": 9.5, "titleFontWeight": "bold", "titleColor": "black", "titlePadding": 4}},
                "y": {"field": "psa", "type": "quantitative", "scale": {"type": "log", "domain": [0.01, 10], "nice": false, "range": [258, 150]},
                  "axis": {"orient": "left", "offset": -55.5, "title": "PSA [g]", "values": [0.01,0.02,0.03,0.04,0.05,0.06,0.07,0.08,0.09,0.1,0.2,0.3,0.4,0.5,0.6,0.7,0.8,0.9,1,2,3,4,5,6,7,8,9,10], "labelExpr": "indexof([0.01,0.1,1,5,10], datum.value) >= 0 ? format(datum.value, '~g') : ''", "grid": false, "tickSize": -3, "tickWidth": 1, "tickColor": "black", "domainColor": "black", "domainWidth": 1, "labelFont": "Liberation Sans", "labelFontSize": 9, "labelFontWeight": "bold", "labelColor": "black", "labelPadding": 10, "labelFlush": false, "labelOverlap": false, "titleFont": "Liberation Sans", "titleFontSize": 10.5, "titleFontWeight": "bold", "titleColor": "black", "titlePadding": 5}},
                "color": {"field": "s", "type": "nominal", "scale": {"domain": ["X","Y"], "range": ["#5e5e5e","#d6d6d6"]}, "legend": null}
              }
            },
            {
              "data": {"name": "insB"},
              "mark": {"type": "line", "strokeOpacity": 0},
              "encoding": {
                "x": {"field": "T", "type": "quantitative", "scale": {"type": "log", "domain": [0.01, 5], "nice": false, "range": [55.5, 168.5]},
                  "axis": {"orient": "top", "offset": -150, "title": null, "labels": false, "values": [0.01,0.02,0.03,0.04,0.05,0.06,0.07,0.08,0.09,0.1,0.2,0.3,0.4,0.5,0.6,0.7,0.8,0.9,1,2,3,4,5], "grid": false, "tickSize": -3, "tickWidth": 1, "tickColor": "black", "domainColor": "black", "domainWidth": 1}},
                "y": {"field": "psa", "type": "quantitative", "scale": {"type": "log", "domain": [0.01, 10], "nice": false, "range": [258, 150]},
                  "axis": {"orient": "right", "offset": -135.5, "title": null, "labels": false, "values": [0.01,0.02,0.03,0.04,0.05,0.06,0.07,0.08,0.09,0.1,0.2,0.3,0.4,0.5,0.6,0.7,0.8,0.9,1,2,3,4,5,6,7,8,9,10], "grid": false, "tickSize": -3, "tickWidth": 1, "tickColor": "black", "domainColor": "black", "domainWidth": 1}}
              }
            }
          ]
        }
      ]
    }
  ]
}
